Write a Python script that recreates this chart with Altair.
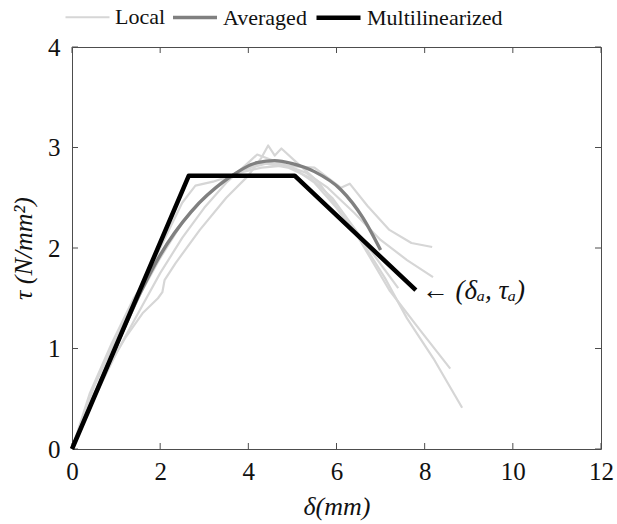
import altair as alt
import pandas as pd

# --- measured curves: slip delta (mm) vs. shear stress tau (N/mm^2) ---
local_1_x = [0, 0.5, 1.0, 1.5, 2.0, 2.5, 2.8, 3.2, 3.8, 4.3, 4.8, 5.5, 6.1, 6.3, 6.7, 7.2, 7.7, 8.17]
local_1_y = [0, 0.62, 1.1, 1.55, 2.0, 2.45, 2.62, 2.66, 2.75, 2.8, 2.82, 2.8, 2.6, 2.64, 2.42, 2.18, 2.05, 2.01]

local_2_x = [0, 0.5, 1.0, 1.5, 2.0, 2.5, 3.0, 3.5, 4.0, 4.4, 4.8, 5.3, 5.8, 6.4, 7.0, 7.6, 8.19]
local_2_y = [0, 0.55, 1.05, 1.5, 1.9, 2.25, 2.5, 2.7, 2.8, 2.85, 2.83, 2.75, 2.6, 2.35, 2.08, 1.88, 1.71]

local_3_x = [0, 0.4, 0.8, 1.2, 1.6, 1.95, 2.05, 2.1, 2.35, 2.9, 3.5, 4.0, 4.3, 4.45, 4.6, 4.75,
             5.1, 5.6, 6.1, 6.6, 7.1, 7.6, 8.2, 8.85]
local_3_y = [0, 0.45, 0.8, 1.1, 1.35, 1.5, 1.56, 1.68, 1.85, 2.18, 2.5, 2.72, 2.9, 3.02, 2.92, 2.99,
             2.85, 2.65, 2.35, 2.05, 1.7, 1.3, 0.9, 0.41]

local_4_x = [0, 0.5, 1.0, 1.5, 2.0, 2.5, 3.0, 3.5, 4.0, 4.2, 4.5, 5.0, 5.5, 6.0, 6.5, 7.2, 7.9, 8.58]
local_4_y = [0, 0.5, 0.95, 1.35, 1.75, 2.1, 2.4, 2.65, 2.85, 2.93, 2.88, 2.8, 2.65, 2.4, 2.1, 1.58, 1.18, 0.8]

local_5_x = [0, 0.4, 0.9, 1.4, 1.9, 2.4, 2.9, 3.4, 3.9, 4.4, 4.9, 5.4, 5.9, 6.4, 6.9, 7.4]
local_5_y = [0, 0.55, 1.05, 1.5, 1.85, 2.2, 2.45, 2.65, 2.78, 2.84, 2.8, 2.7, 2.5, 2.2, 1.9, 1.6]

averaged_x = [0, 0.5, 1.0, 1.6, 2.0, 2.7, 3.5, 4.2, 4.6, 5.0, 5.5, 6.1, 6.6, 7.0]
averaged_y = [0, 0.52, 1.02, 1.6, 1.93, 2.36, 2.68, 2.85, 2.87, 2.84, 2.76, 2.58, 2.3, 1.98]

multilinear_x = [0, 2.65, 5.05, 7.8]
multilinear_y = [0, 2.72, 2.72, 1.58]

series_names = ["Local", "Averaged", "Multilinearized"]
series_colors = ["#d6d6d6", "#808080", "#000000"]
series_widths = [2.2, 4.5, 3.8]

x_ticks = [0, 2, 4, 6, 8, 10, 12]
y_ticks = [0, 1, 2, 3, 4]

annot_x = [multilinear_x[-1]]
annot_y = [multilinear_y[-1]]
annot_text = ["\u2190 (\u03b4\u2090, \u03c4\u2090)"]

# --- tables ---
rows = []
local_sets = [(local_1_x, local_1_y), (local_2_x, local_2_y), (local_3_x, local_3_y),
              (local_4_x, local_4_y), (local_5_x, local_5_y)]
for i, (xs, ys) in enumerate(local_sets):
    for k, (a, b) in enumerate(zip(xs, ys)):
        rows.append({"x": a, "y": b, "series": "Local", "curve": f"L{i}", "k": k})
local_df = pd.DataFrame(rows)
avg_df = pd.DataFrame({"x": averaged_x, "y": averaged_y, "series": "Averaged",
                       "curve": "A", "k": range(len(averaged_x))})
ml_df = pd.DataFrame({"x": multilinear_x, "y": multilinear_y, "series": "Multilinearized",
                      "curve": "M", "k": range(len(multilinear_x))})
xt_df = pd.DataFrame({"x": x_ticks})
yt_df = pd.DataFrame({"y": y_ticks})
annot_df = pd.DataFrame({"x": annot_x, "y": annot_y, "label": annot_text})

W, H = 529, 402
FONT = "Liberation Serif"

axis_style = dict(domain=False, ticks=False, grid=False, labelFlush=False,
                  labelFont=FONT, labelFontSize=25, labelColor="#111",
                  titleFont=FONT, titleFontSize=26, titleColor="#111",
                  titleFontStyle="italic", titleFontWeight="normal")

X = alt.X("x:Q", scale=alt.Scale(domain=[0, 12], nice=False, zero=False),
          axis=alt.Axis(values=x_ticks, title="\u03b4(mm)", labelPadding=10, titlePadding=9,
                        **axis_style))
Y = alt.Y("y:Q", scale=alt.Scale(domain=[0, 4], nice=False, zero=False),
          axis=alt.Axis(values=y_ticks, title="\u03c4 (N/mm\u00b2)", labelPadding=12,
                        titlePadding=11, **axis_style))

legend_props = dict(title=None, orient="none", direction="horizontal",
                    legendX=-8, legendY=-54, symbolType="stroke",
                    symbolSize=1936, labelFont=FONT, labelFontSize=22,
                    labelColor="#111", columnPadding=0, labelOffset=4, padding=0)
color = alt.Color("series:N", scale=alt.Scale(domain=series_names, range=series_colors),
                  legend=alt.Legend(**legend_props))
width = alt.StrokeWidth("series:N", scale=alt.Scale(domain=series_names, range=series_widths),
                        legend=alt.Legend(**legend_props))

def lines(df, interp="linear"):
    return alt.Chart(df).mark_line(strokeJoin="round", strokeCap="butt",
                                   interpolate=interp).encode(
        x=X, y=Y, color=color, strokeWidth=width, detail="curve:N", order="k:Q")

tick_color = "#4d4d4d"
bottom_ticks = alt.Chart(xt_df).mark_rule(color=tick_color, strokeWidth=1).encode(
    x=X, y=alt.value(H), y2=alt.value(H - 6))
top_ticks = alt.Chart(xt_df).mark_rule(color=tick_color, strokeWidth=1).encode(
    x=X, y=alt.value(0), y2=alt.value(6))
left_ticks = alt.Chart(yt_df).mark_rule(color=tick_color, strokeWidth=1).encode(
    y=Y, x=alt.value(0), x2=alt.value(6))
right_ticks = alt.Chart(yt_df).mark_rule(color=tick_color, strokeWidth=1).encode(
    y=Y, x=alt.value(W), x2=alt.value(W - 6))

annot = alt.Chart(annot_df).mark_text(align="left", baseline="middle", dx=6, dy=1,
                                      font=FONT, fontSize=27, fontStyle="italic",
                                      color="#111").encode(
    x=X, y=Y, text="label:N")

chart = alt.layer(
    bottom_ticks, top_ticks, left_ticks, right_ticks,
    lines(local_df), lines(avg_df, "monotone"), lines(ml_df), annot
).properties(
    width=W, height=H,
    padding={"left": 72, "top": 47, "right": 16, "bottom": 75},
    autosize=alt.AutoSizeParams(type="none"),
    background="white",
).configure_view(
    stroke=tick_color, strokeWidth=1
)

chart.save("out.html", embed_options={"renderer": "svg", "actions": False})
